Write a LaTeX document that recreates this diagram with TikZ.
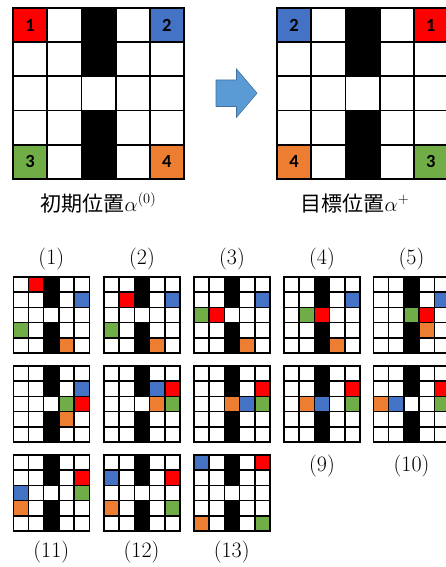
\documentclass[tikz,border=0pt]{standalone}
\usepackage{fontspec}
\usepackage{xcolor}
\usepackage{tikz}

\newfontfamily\cjk{Noto Sans CJK JP}
\newfontfamily\numfont{Carlito}

\definecolor{pred}{HTML}{FF0000}
\definecolor{pblue}{HTML}{4472C4}
\definecolor{pgreen}{HTML}{70AD47}
\definecolor{porange}{HTML}{ED7D31}
\definecolor{arrowfill}{HTML}{5B9BD5}
\definecolor{arrowline}{HTML}{41719C}

% 5x5 board: left, top, cell size, line width, coloured cells (col/row/colour)
\newcommand{\drawboard}[5]{%
  \begin{scope}[shift={(#1,#2)},x=#3pt,y=-#3pt]
    \fill[white] (0,0) rectangle (5,5);
    \foreach \ry in {0,1,3,4}
      \fill[black] (2,\ry) rectangle (3,\ry+1);
    \foreach \cx/\ry/\clr in {#5}
      \fill[\clr] (\cx,\ry) rectangle (\cx+1,\ry+1);
    \foreach \i in {0,...,5} {
      \draw[line width=#4, line cap=rect] (\i,0) -- (\i,5);
      \draw[line width=#4, line cap=rect] (0,\i) -- (5,\i);
    }
  \end{scope}}

\begin{document}
\begin{tikzpicture}[x=1pt,y=-1pt,
    cellnum/.style={font=\numfont\bfseries\fontsize{18.5}{20}\selectfont, inner sep=0pt},
    boardlabel/.style={font=\cjk\fontsize{21}{24}\selectfont, anchor=base, inner sep=0pt},
    steplabel/.style={font=\fontsize{22}{24}\selectfont, anchor=base, inner sep=0pt}]
    \useasboundingbox (0,0) rectangle (446,567);
    \clip (0,0) rectangle (446,567);
    \fill[white] (0,0) rectangle (446,567);

    % Initial position
    \drawboard{13}{8}{34.2}{1.8pt}{0/0/pred, 4/0/pblue, 0/4/pgreen, 4/4/porange}
    \node[cellnum] (ini1) at (30.1,25.1) {1};
    \node[cellnum] (ini2) at (166.9,25.1) {2};
    \node[cellnum] (ini3) at (30.1,161.9) {3};
    \node[cellnum] (ini4) at (166.9,161.9) {4};
    \node[boardlabel] (inilabel) at (98.5,211.5) {初期位置$\alpha^{(0)}$};

    % Arrow
    \filldraw[fill=arrowfill, draw=arrowline, line width=0.6pt]
      (216,80) -- (236.5,80) -- (236.5,69) -- (257,93.2) -- (236.5,117.3)
      -- (236.5,106.5) -- (216,106.5) -- cycle;

    % Target position
    \drawboard{277}{8}{34.2}{1.8pt}{0/0/pblue, 4/0/pred, 0/4/porange, 4/4/pgreen}
    \node[cellnum] (goal2) at (294.1,25.1) {2};
    \node[cellnum] (goal1) at (430.9,25.1) {1};
    \node[cellnum] (goal4) at (294.1,161.9) {4};
    \node[cellnum] (goal3) at (430.9,161.9) {3};
    \node[boardlabel] (goallabel) at (355,211.5) {目標位置$\alpha^{+}$};

    % Steps (1)-(5)
    \drawboard{13.3}{277}{15.2}{1.5pt}{1/0/pred, 4/1/pblue, 0/3/pgreen, 3/4/porange}
    \drawboard{104}{277}{15.2}{1.5pt}{1/1/pred, 4/1/pblue, 0/3/pgreen, 3/4/porange}
    \drawboard{194}{277}{15.2}{1.5pt}{0/2/pgreen, 1/2/pred, 4/1/pblue, 3/4/porange}
    \drawboard{284}{277}{15.2}{1.5pt}{1/2/pgreen, 2/2/pred, 4/1/pblue, 3/4/porange}
    \drawboard{373.5}{277}{15.2}{1.5pt}{2/2/pgreen, 3/2/pred, 3/3/porange, 4/1/pblue}
    \foreach \n/\lx in {1/51.3, 2/142, 3/232, 4/322, 5/411.5}
      \node[steplabel] (step\n) at (\lx,264.5) {(\n)};

    % Steps (6)-(10)
    \drawboard{13.3}{366}{15.2}{1.5pt}{4/1/pblue, 3/2/pgreen, 4/2/pred, 3/3/porange}
    \drawboard{104}{366}{15.2}{1.5pt}{3/1/pblue, 4/1/pred, 3/2/porange, 4/2/pgreen}
    \drawboard{194}{366}{15.2}{1.5pt}{4/1/pred, 2/2/porange, 3/2/pblue, 4/2/pgreen}
    \drawboard{284}{366}{15.2}{1.5pt}{4/1/pred, 1/2/porange, 2/2/pblue, 4/2/pgreen}
    \drawboard{373.5}{366}{15.2}{1.5pt}{4/1/pred, 0/2/porange, 1/2/pblue, 4/2/pgreen}
    \foreach \n/\lx in {9/322, 10/411.5}
      \node[steplabel] (step\n) at (\lx,471.2) {(\n)};

    % Steps (11)-(13)
    \drawboard{13.3}{455}{15.2}{1.5pt}{4/1/pred, 0/2/pblue, 4/2/pgreen, 0/3/porange}
    \drawboard{104}{455}{15.2}{1.5pt}{0/1/pblue, 4/1/pred, 0/3/porange, 4/3/pgreen}
    \drawboard{194}{455}{15.2}{1.5pt}{0/0/pblue, 4/0/pred, 0/4/porange, 4/4/pgreen}
    \foreach \n/\lx in {11/51.3, 12/141.5, 13/231.7}
      \node[steplabel] (step\n) at (\lx,557.5) {(\n)};
\end{tikzpicture}
\end{document}
